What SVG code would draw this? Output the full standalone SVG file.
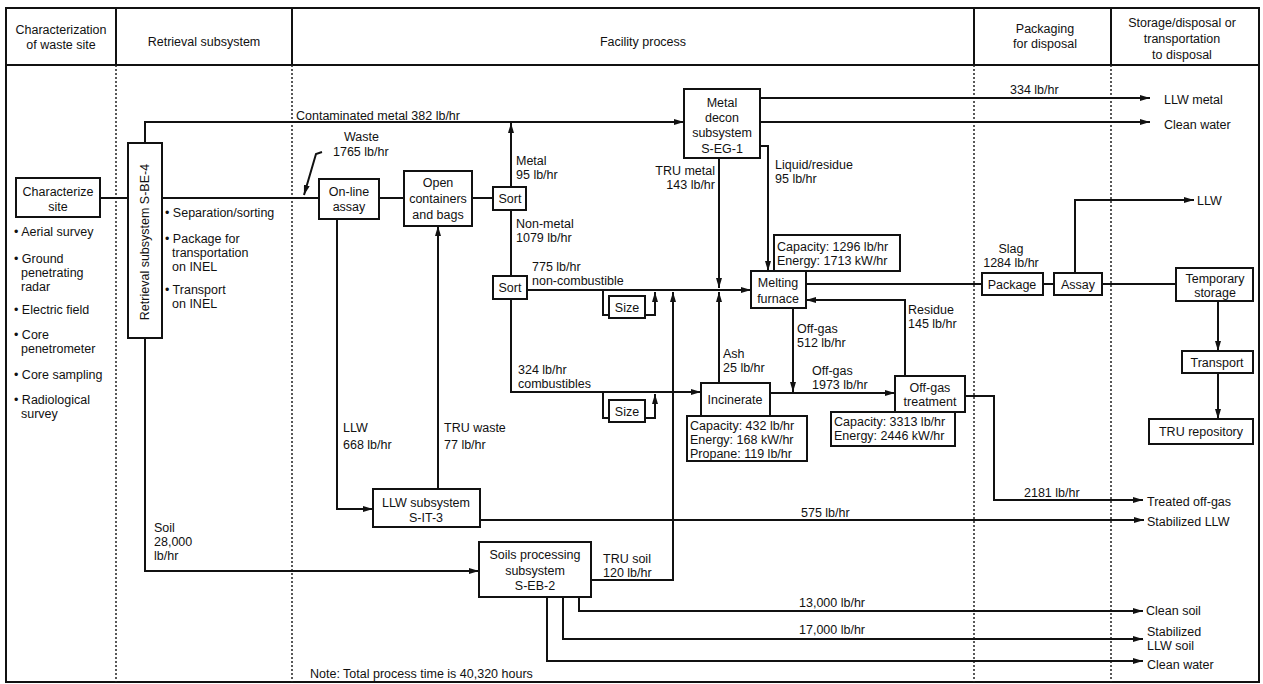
<svg xmlns="http://www.w3.org/2000/svg" width="1263" height="684" viewBox="0 0 1263 684">
<defs>
<marker id="ah" viewBox="0 0 10 6" refX="10" refY="3" markerWidth="10" markerHeight="6" orient="auto" markerUnits="userSpaceOnUse"><path d="M0,0 L10,3 L0,6 z" fill="#111"/></marker>
<style>
.box{fill:#fff;stroke:#111;stroke-width:2}
.ln{fill:none;stroke:#111;stroke-width:2}
.ar{fill:none;stroke:#111;stroke-width:2;marker-end:url(#ah)}
.dot{stroke:#222;stroke-width:1.5;stroke-dasharray:2 2;fill:none}
.frm{fill:none;stroke:#111;stroke-width:2}
text{font-family:"Liberation Sans",Arial,Helvetica,sans-serif;font-size:12.5px;fill:#111}
.c{text-anchor:middle}
.r{text-anchor:end}
</style>
</defs>
<rect x="0" y="0" width="1263" height="684" fill="#fff"/>

<g id="frame">
<rect class="frm" x="6" y="8" width="1253" height="674"/>
<line class="frm" x1="6" y1="65" x2="1259" y2="65"/>
<line class="frm" x1="116" y1="8" x2="116" y2="65"/>
<line class="frm" x1="292" y1="8" x2="292" y2="65"/>
<line class="frm" x1="974" y1="8" x2="974" y2="65"/>
<line class="frm" x1="1111" y1="8" x2="1111" y2="65"/>
<line class="dot" x1="116" y1="65" x2="116" y2="682"/>
<line class="dot" x1="292" y1="65" x2="292" y2="682"/>
<line class="dot" x1="974" y1="65" x2="974" y2="682"/>
<line class="dot" x1="1111" y1="65" x2="1111" y2="682"/>
<text class="c" x="61" y="34">Characterization</text>
<text class="c" x="61" y="49">of waste site</text>
<text class="c" x="204" y="46">Retrieval subsystem</text>
<text class="c" x="643" y="46">Facility process</text>
<text class="c" x="1045" y="33">Packaging</text>
<text class="c" x="1045" y="48">for disposal</text>
<text class="c" x="1182" y="27">Storage/disposal or</text>
<text class="c" x="1182" y="43">transportation</text>
<text class="c" x="1182" y="59">to disposal</text>
</g>

<g id="connectors">
<path class="ln" d="M100,198 H128"/>
<path class="ln" d="M162,198 H319"/>
<path class="ar" d="M322,152 L316,154 L304,195"/>
<path class="ar" d="M145,143 V122 H684"/>
<path class="ln" d="M379,198 H404"/>
<path class="ln" d="M472,198 H493"/>
<path class="ar" d="M511,187 V123"/>
<path class="ln" d="M511,210 V276"/>
<path class="ar" d="M527,290 H751"/>
<path class="ln" d="M511,299 V392 H604"/>
<path class="ar" d="M604,392 H701"/>
<path class="ln" d="M603,290 V315 H609"/>
<path class="ar" d="M645,315 H655 V292"/>
<path class="ln" d="M603,392 V418 H609"/>
<path class="ar" d="M645,418 H655 V394"/>
<path class="ar" d="M592,580 H673 V292"/>
<path class="ar" d="M337,219 V509 H373"/>
<path class="ar" d="M438,489 V226"/>
<path class="ar" d="M145,338 V571 H479"/>
<path class="ar" d="M480,520 H1144"/>
<path class="ar" d="M579,597 V611 H1143"/>
<path class="ar" d="M563,597 V639 H1143"/>
<path class="ar" d="M547,597 V661 H1143"/>
<path class="ar" d="M760,98 H1150"/>
<path class="ar" d="M760,122 H1150"/>
<path class="ar" d="M760,146 H768 V271"/>
<path class="ar" d="M719,158 V288"/>
<path class="ar" d="M719,383 V292"/>
<path class="ar" d="M793,308 V392"/>
<path class="ar" d="M770,393 H895"/>
<path class="ar" d="M905,376 V300 H806"/>
<path class="ar" d="M965,396 H994 V500 H1143"/>
<path class="ln" d="M806,284 H982"/>
<path class="ln" d="M1043,284 H1054"/>
<path class="ar" d="M1075,273 V200 H1194"/>
<path class="ln" d="M1102,284 H1176"/>
<path class="ar" d="M1218,301 V351"/>
<path class="ar" d="M1218,373 V419"/>
</g>

<g id="col1-text">
<text x="14" y="236">• Aerial survey</text>
<text x="14" y="263">• Ground</text>
<text x="21" y="277">penetrating</text>
<text x="21" y="291">radar</text>
<text x="14" y="314">• Electric field</text>
<text x="14" y="339">• Core</text>
<text x="21" y="353">penetrometer</text>
<text x="14" y="379">• Core sampling</text>
<text x="14" y="404">• Radiological</text>
<text x="21" y="418">survey</text>
</g>

<g id="col2-text">
<text x="165" y="217">• Separation/sorting</text>
<text x="165" y="243">• Package for</text>
<text x="172" y="257">transportation</text>
<text x="172" y="271">on INEL</text>
<text x="165" y="294">• Transport</text>
<text x="172" y="308">on INEL</text>
</g>

<g id="characterize">
<rect class="box" x="16" y="178" width="84" height="39"/>
<text class="c" x="58" y="196">Characterize</text>
<text class="c" x="58" y="211">site</text>
</g>
<g id="retrieval">
<rect class="box" x="128" y="143" width="34" height="195"/>
<text class="c" transform="translate(149,242) rotate(-90)">Retrieval subsystem S-BE-4</text>
</g>
<g id="online-assay">
<rect class="box" x="319" y="179" width="60" height="40"/>
<text class="c" x="349" y="196">On-line</text>
<text class="c" x="349" y="211">assay</text>
</g>
<g id="open-containers">
<rect class="box" x="404" y="171" width="68" height="55"/>
<text class="c" x="438" y="187">Open</text>
<text class="c" x="438" y="203">containers</text>
<text class="c" x="438" y="219">and bags</text>
</g>
<g id="sort1">
<rect class="box" x="493" y="187" width="33" height="23"/>
<text class="c" x="510" y="203">Sort</text>
</g>
<g id="sort2">
<rect class="box" x="493" y="276" width="34" height="23"/>
<text class="c" x="510" y="292">Sort</text>
</g>
<g id="size1">
<rect class="box" x="609" y="296" width="36" height="22"/>
<text class="c" x="627" y="312">Size</text>
</g>
<g id="size2">
<rect class="box" x="609" y="400" width="36" height="22"/>
<text class="c" x="627" y="416">Size</text>
</g>
<g id="metal-decon">
<rect class="box" x="684" y="89" width="76" height="69"/>
<text class="c" x="722" y="107">Metal</text>
<text class="c" x="722" y="122">decon</text>
<text class="c" x="722" y="137">subsystem</text>
<text class="c" x="722" y="153">S-EG-1</text>
</g>
<g id="melting-furnace">
<rect class="box" x="774" y="235" width="126" height="36"/>
<text x="777" y="251">Capacity: 1296 lb/hr</text>
<text x="777" y="265">Energy: 1713 kW/hr</text>
<rect class="box" x="751" y="271" width="55" height="37"/>
<text class="c" x="778" y="287">Melting</text>
<text class="c" x="778" y="303">furnace</text>
</g>
<g id="incinerate">
<rect class="box" x="701" y="383" width="69" height="33"/>
<text class="c" x="735" y="404">Incinerate</text>
<rect class="box" x="687" y="416" width="120" height="45"/>
<text x="690" y="430">Capacity: 432 lb/hr</text>
<text x="690" y="444">Energy: 168 kW/hr</text>
<text x="690" y="458">Propane: 119 lb/hr</text>
</g>
<g id="offgas-treatment">
<rect class="box" x="895" y="376" width="70" height="36"/>
<text class="c" x="930" y="392">Off-gas</text>
<text class="c" x="930" y="406">treatment</text>
<rect class="box" x="831" y="412" width="124" height="34"/>
<text x="834" y="426">Capacity: 3313 lb/hr</text>
<text x="834" y="440">Energy: 2446 kW/hr</text>
</g>
<g id="llw-subsystem">
<rect class="box" x="373" y="489" width="107" height="38"/>
<text class="c" x="426" y="507">LLW subsystem</text>
<text class="c" x="426" y="522">S-IT-3</text>
</g>
<g id="soils">
<rect class="box" x="479" y="542" width="112" height="55"/>
<text class="c" x="535" y="559">Soils processing</text>
<text class="c" x="535" y="575">subsystem</text>
<text class="c" x="535" y="590">S-EB-2</text>
</g>
<g id="package">
<rect class="box" x="982" y="273" width="61" height="22"/>
<text class="c" x="1012" y="289">Package</text>
</g>
<g id="assay">
<rect class="box" x="1054" y="273" width="48" height="22"/>
<text class="c" x="1078" y="289">Assay</text>
</g>
<g id="temp-storage">
<rect class="box" x="1176" y="268" width="77" height="33"/>
<text class="c" x="1215" y="283">Temporary</text>
<text class="c" x="1215" y="297">storage</text>
</g>
<g id="transport">
<rect class="box" x="1182" y="351" width="71" height="22"/>
<text class="c" x="1217" y="367">Transport</text>
</g>
<g id="tru-repository">
<rect class="box" x="1149" y="419" width="104" height="25"/>
<text class="c" x="1201" y="436">TRU repository</text>
</g>

<g id="labels">
<text x="296" y="120">Contaminated metal 382 lb/hr</text>
<text x="344" y="141">Waste</text>
<text x="333" y="156">1765 lb/hr</text>
<text x="516" y="165">Metal</text>
<text x="516" y="179">95 lb/hr</text>
<text x="516" y="228">Non-metal</text>
<text x="516" y="242">1079 lb/hr</text>
<text x="532" y="271">775 lb/hr</text>
<text x="532" y="285">non-combustible</text>
<text x="518" y="374">324 lb/hr</text>
<text x="518" y="388">combustibles</text>
<text x="343" y="432">LLW</text>
<text x="343" y="449">668 lb/hr</text>
<text x="444" y="432">TRU waste</text>
<text x="444" y="449">77 lb/hr</text>
<text x="154" y="532">Soil</text>
<text x="154" y="546">28,000</text>
<text x="154" y="560">lb/hr</text>
<text x="603" y="563">TRU soil</text>
<text x="603" y="577">120 lb/hr</text>
<text class="r" x="715" y="175">TRU metal</text>
<text class="r" x="715" y="189">143 lb/hr</text>
<text x="775" y="169">Liquid/residue</text>
<text x="775" y="183">95 lb/hr</text>
<text x="723" y="358">Ash</text>
<text x="723" y="372">25 lb/hr</text>
<text x="797" y="333">Off-gas</text>
<text x="797" y="347">512 lb/hr</text>
<text x="812" y="375">Off-gas</text>
<text x="812" y="389">1973 lb/hr</text>
<text x="908" y="314">Residue</text>
<text x="908" y="328">145 lb/hr</text>
<text class="c" x="1011" y="253">Slag</text>
<text class="c" x="1011" y="267">1284 lb/hr</text>
<text x="1010" y="94">334 lb/hr</text>
<text x="1024" y="497">2181 lb/hr</text>
<text x="801" y="517">575 lb/hr</text>
<text x="799" y="607">13,000 lb/hr</text>
<text x="799" y="634">17,000 lb/hr</text>
<text x="310" y="678">Note: Total process time is 40,320 hours</text>
<text x="1164" y="104">LLW metal</text>
<text x="1164" y="129">Clean water</text>
<text x="1197" y="205">LLW</text>
<text x="1147" y="506">Treated off-gas</text>
<text x="1147" y="526">Stabilized LLW</text>
<text x="1146" y="615">Clean soil</text>
<text x="1147" y="636">Stabilized</text>
<text x="1147" y="650">LLW soil</text>
<text x="1147" y="669">Clean water</text>
</g>
</svg>
